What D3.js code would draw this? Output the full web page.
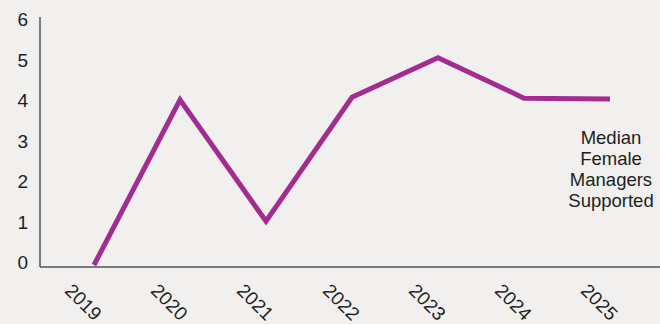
<!DOCTYPE html>
<html>

<head>
  <title>Median Female Managers Supported</title>
  <meta charset="utf-8">
  <script src="https://d3js.org/d3.v7.min.js"></script>
  <style>
    html, body {
      margin: 0;
      padding: 0;
      background: #f1f0ee;
    }
    svg text {
      font-family: "Liberation Sans", Arial, sans-serif;
      fill: #1e1e1e;
    }
    .axis path.domain {
      stroke: #555;
      stroke-width: 1.5px;
    }
    .series {
      fill: none;
      stroke: #a22d8f;
      stroke-width: 5px;
    }
  </style>
</head>

<body>
  <svg width="660" height="324"></svg>
  <script>

    var years = ["2019", "2020", "2021", "2022", "2023", "2024", "2025"]
    var medianManagers = [0, 4.08, 1.08, 4.14, 5.12, 4.12, 4.1]
    var yTicks = [0, 1, 2, 3, 4, 5, 6]
    var seriesLabel = ["Median", "Female", "Managers", "Supported"]

    var svg = d3.select('svg');

    var x = d3.scalePoint().domain(years).range([94, 610]);
    var y = d3.scaleLinear().domain([0, 6]).range([265, 22]);

    // y axis, no tick marks
    svg.append('g')
      .attr('class', 'axis')
      .attr('transform', 'translate(40,0)')
      .call(d3.axisLeft(y).tickValues(yTicks).tickFormat(d3.format('d')).tickSize(0).tickPadding(12).tickSizeOuter(0))
      .call(g => g.select('.domain').attr('d', 'M0,17V267'))
      .selectAll('text')
      .style('font-size', '19px')
      .attr('dy', '0.2em');

    // x axis, labels turned 45 degrees
    var xa = svg.append('g')
      .attr('class', 'axis')
      .attr('transform', 'translate(0,267)')
      .call(d3.axisBottom(x).tickSize(0).tickSizeOuter(0));
    xa.select('.domain').attr('d', 'M40,0H660');
    xa.selectAll('.tick text')
      .style('font-size', '19px')
      .attr('text-anchor', 'middle')
      .attr('dy', '0.35em')
      .attr('y', 0)
      .attr('transform', 'translate(-11,35) rotate(45)');

    var line = d3.line()
      .x((d, i) => x(years[i]))
      .y(d => y(d));

    svg.append('path')
      .datum(medianManagers)
      .attr('class', 'series')
      .attr('d', line);

    svg.append('text')
      .attr('x', 611)
      .attr('y', 144)
      .attr('text-anchor', 'middle')
      .style('font-size', '18.5px')
      .selectAll('tspan')
      .data(seriesLabel)
      .enter()
      .append('tspan')
      .attr('x', 611)
      .attr('dy', (d, i) => i == 0 ? 0 : 21)
      .text(d => d);

  </script>

</body>

</html>
